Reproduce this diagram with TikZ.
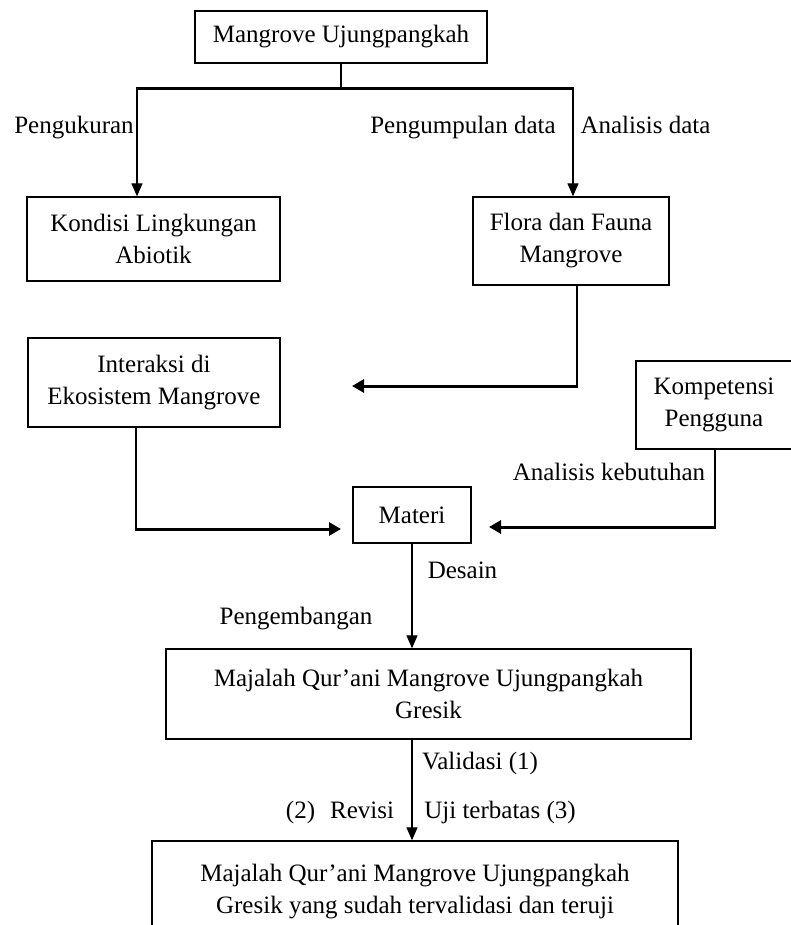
\documentclass[tikz,border=0pt]{standalone}
\usepackage{fontspec}
\setmainfont{Liberation Serif}
\usetikzlibrary{arrows.meta}
\begin{document}
\begin{tikzpicture}[x=1pt,y=-1pt,
  box/.style={draw,line width=1.4pt,align=center,inner sep=0pt,
    font=\fontsize{25}{32}\selectfont},
  lbl/.style={inner sep=0pt,font=\fontsize{25}{30}\selectfont,text height=17pt,text depth=5pt},
  thin/.style={line width=1.3pt,-{Triangle[length=13pt,width=11pt]}},
  fat/.style={line width=3pt,-{Triangle[length=12pt,width=13pt]}}]
\clip (0,0) rectangle (791,925);
\fill[white] (0,0) rectangle (791,925);
% boxes
\node[box,minimum width=292pt,minimum height=52pt] (top) at (341,37) {Mangrove Ujungpangkah};
\node[box,minimum width=253pt,minimum height=84pt] (kondisi) at (153.5,239) {Kondisi Lingkungan\\Abiotik};
\node[box,minimum width=196pt,minimum height=88pt] (flora) at (571,241) {Flora dan Fauna\\Mangrove};
\node[box,minimum width=252pt,minimum height=89pt] (inter) at (154,382.5) {Interaksi di\\Ekosistem Mangrove};
\node[box,minimum width=156pt,minimum height=88pt] (komp) at (714,405) {Kompetensi\\Pengguna};
\node[box,minimum width=118pt,minimum height=56pt] (materi) at (412,515) {Materi};
\node[box,minimum width=525pt,minimum height=90pt] (maj1) at (428.5,694) {Majalah Qur’ani Mangrove Ujungpangkah\\Gresik};
\node[box,minimum width=526pt,minimum height=102pt] (maj2) at (415,892) {Majalah Qur’ani Mangrove Ujungpangkah\\Gresik yang sudah tervalidasi dan teruji};
% coordinates
\coordinate (stem) at (341,89);
\coordinate (bl) at (137,89);
\coordinate (br) at (573,89);
\coordinate (flcorner) at (577,386);
\coordinate (fltip) at (352,386);
\coordinate (incorner) at (136,529);
\coordinate (intip) at (341,529);
\coordinate (kocorner) at (715,527);
\coordinate (kotip) at (489,527);
% connectors
\draw[line width=1.3pt] (top.south) -- (stem);
\draw[line width=3pt] ([xshift=-1pt]bl) -- ([xshift=1pt]br);
\draw[thin] (bl) -- (bl |- kondisi.north);
\draw[thin] (br) -- (br |- flora.north);
\draw[line width=1.3pt] (flora.south -| flcorner) -- (flcorner);
\draw[fat] ([xshift=0.6pt]flcorner) -- (fltip);
\draw[line width=1.3pt] (inter.south -| incorner) -- (incorner);
\draw[fat] ([xshift=-0.6pt]incorner) -- (intip);
\draw[line width=1.3pt] (komp.south -| kocorner) -- (kocorner);
\draw[fat] ([xshift=0.6pt]kocorner) -- (kotip);
\draw[thin] (materi.south) -- (materi.south |- maj1.north);
\draw[thin] (maj1.south -| materi.south) -- (materi.south |- maj2.north);
% labels
\node[lbl] (l1) at (74,128) {Pengukuran};
\node[lbl] (l2) at (463,128) {Pengumpulan data};
\node[lbl] (l3) at (645.5,128) {Analisis data};
\node[lbl] (l4) at (609,474) {Analisis kebutuhan};
\node[lbl] (l5) at (462.5,572) {Desain};
\node[lbl] (l6) at (296,618) {Pengembangan};
\node[lbl] (l7) at (480,763) {Validasi (1)};
\node[lbl] (l8) at (340,812) {(2)\hspace{15pt}Revisi};
\node[lbl] (l9) at (500,812) {Uji terbatas (3)};
\end{tikzpicture}
\end{document}
